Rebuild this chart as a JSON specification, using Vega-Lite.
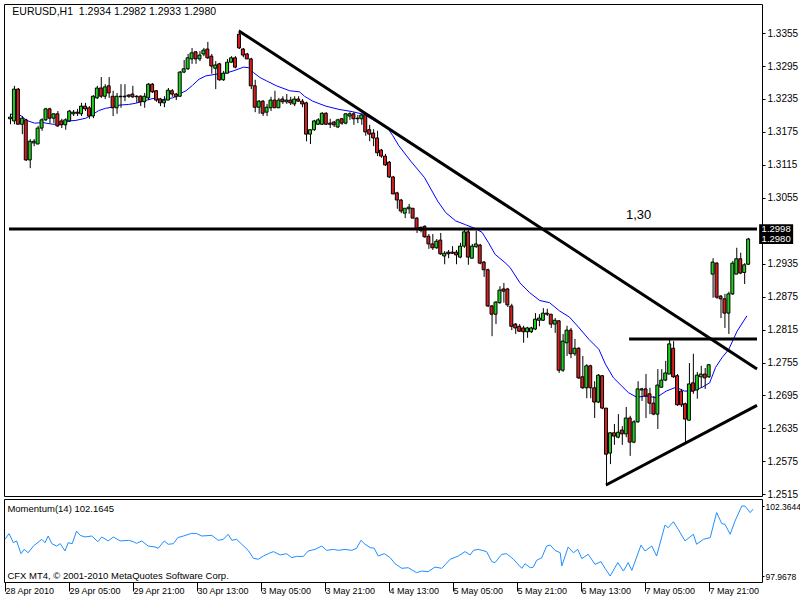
{
"$schema": "https://vega.github.io/schema/vega-lite/v6.json",
"background": "white",
"padding": {"left": 2, "top": 3, "right": 0, "bottom": 0},
"bounds": "flush",
"spacing": 3,
"config": {
  "view": {"stroke": "black", "strokeWidth": 1},
  "font": "Liberation Sans",
  "axis": {"labelFont": "Liberation Sans", "labelFontSize": 9, "labelColor": "black", "tickColor": "black", "domain": false, "grid": false, "labelOverlap": false}
},
"datasets": {
"candles": [
{"i":0,"o":1.3199,"h":1.3208,"l":1.3189,"c":1.3202},
{"i":1,"o":1.3195,"h":1.3259,"l":1.3189,"c":1.3253},
{"i":2,"o":1.3253,"h":1.3255,"l":1.3189,"c":1.3189},
{"i":3,"o":1.3189,"h":1.3204,"l":1.3171,"c":1.3200},
{"i":4,"o":1.3197,"h":1.3199,"l":1.3122,"c":1.3124},
{"i":5,"o":1.3124,"h":1.3162,"l":1.3109,"c":1.3158},
{"i":6,"o":1.3155,"h":1.3162,"l":1.3149,"c":1.3158},
{"i":7,"o":1.3153,"h":1.3186,"l":1.3153,"c":1.3182},
{"i":8,"o":1.3182,"h":1.3200,"l":1.3177,"c":1.3197},
{"i":9,"o":1.3197,"h":1.3219,"l":1.3195,"c":1.3217},
{"i":10,"o":1.3217,"h":1.3219,"l":1.3191,"c":1.3200},
{"i":11,"o":1.3200,"h":1.3209,"l":1.3191,"c":1.3208},
{"i":12,"o":1.3208,"h":1.3213,"l":1.3184,"c":1.3186},
{"i":13,"o":1.3195,"h":1.3199,"l":1.3182,"c":1.3188},
{"i":14,"o":1.3188,"h":1.3200,"l":1.3179,"c":1.3197},
{"i":15,"o":1.3195,"h":1.3215,"l":1.3193,"c":1.3213},
{"i":16,"o":1.3208,"h":1.3215,"l":1.3204,"c":1.3211},
{"i":17,"o":1.3211,"h":1.3217,"l":1.3204,"c":1.3209},
{"i":18,"o":1.3208,"h":1.3228,"l":1.3204,"c":1.3222},
{"i":19,"o":1.3222,"h":1.3228,"l":1.3213,"c":1.3217},
{"i":20,"o":1.3219,"h":1.3222,"l":1.3199,"c":1.3204},
{"i":21,"o":1.3204,"h":1.3242,"l":1.3200,"c":1.3240},
{"i":22,"o":1.3237,"h":1.3259,"l":1.3235,"c":1.3255},
{"i":23,"o":1.3255,"h":1.3275,"l":1.3237,"c":1.3240},
{"i":24,"o":1.3240,"h":1.3262,"l":1.3235,"c":1.3257},
{"i":25,"o":1.3259,"h":1.3275,"l":1.3237,"c":1.3246},
{"i":26,"o":1.3240,"h":1.3250,"l":1.3204,"c":1.3219},
{"i":27,"o":1.3219,"h":1.3246,"l":1.3208,"c":1.3240},
{"i":28,"o":1.3240,"h":1.3262,"l":1.3219,"c":1.3239},
{"i":29,"o":1.3240,"h":1.3262,"l":1.3231,"c":1.3239},
{"i":30,"o":1.3240,"h":1.3244,"l":1.3237,"c":1.3242},
{"i":31,"o":1.3244,"h":1.3259,"l":1.3237,"c":1.3239},
{"i":32,"o":1.3240,"h":1.3242,"l":1.3228,"c":1.3239},
{"i":33,"o":1.3240,"h":1.3242,"l":1.3222,"c":1.3230},
{"i":34,"o":1.3230,"h":1.3246,"l":1.3219,"c":1.3240},
{"i":35,"o":1.3237,"h":1.3264,"l":1.3233,"c":1.3262},
{"i":36,"o":1.3262,"h":1.3264,"l":1.3246,"c":1.3248},
{"i":37,"o":1.3250,"h":1.3251,"l":1.3230,"c":1.3233},
{"i":38,"o":1.3235,"h":1.3237,"l":1.3222,"c":1.3228},
{"i":39,"o":1.3228,"h":1.3240,"l":1.3220,"c":1.3233},
{"i":40,"o":1.3233,"h":1.3255,"l":1.3233,"c":1.3251},
{"i":41,"o":1.3250,"h":1.3253,"l":1.3239,"c":1.3244},
{"i":42,"o":1.3244,"h":1.3246,"l":1.3233,"c":1.3239},
{"i":43,"o":1.3240,"h":1.3286,"l":1.3239,"c":1.3284},
{"i":44,"o":1.3284,"h":1.3306,"l":1.3282,"c":1.3290},
{"i":45,"o":1.3290,"h":1.3317,"l":1.3288,"c":1.3310},
{"i":46,"o":1.3308,"h":1.3328,"l":1.3299,"c":1.3319},
{"i":47,"o":1.3321,"h":1.3322,"l":1.3299,"c":1.3308},
{"i":48,"o":1.3308,"h":1.3322,"l":1.3304,"c":1.3315},
{"i":49,"o":1.3317,"h":1.3328,"l":1.3313,"c":1.3324},
{"i":50,"o":1.3326,"h":1.3339,"l":1.3308,"c":1.3310},
{"i":51,"o":1.3313,"h":1.3317,"l":1.3281,"c":1.3295},
{"i":52,"o":1.3291,"h":1.3304,"l":1.3253,"c":1.3297},
{"i":53,"o":1.3299,"h":1.3301,"l":1.3268,"c":1.3270},
{"i":54,"o":1.3270,"h":1.3286,"l":1.3268,"c":1.3282},
{"i":55,"o":1.3282,"h":1.3308,"l":1.3282,"c":1.3302},
{"i":56,"o":1.3302,"h":1.3313,"l":1.3301,"c":1.3310},
{"i":57,"o":1.3310,"h":1.3313,"l":1.3291,"c":1.3293},
{"i":58,"o":1.3353,"h":1.3361,"l":1.3326,"c":1.3328},
{"i":59,"o":1.3326,"h":1.3328,"l":1.3311,"c":1.3315},
{"i":60,"o":1.3317,"h":1.3319,"l":1.3308,"c":1.3308},
{"i":61,"o":1.3308,"h":1.3310,"l":1.3253,"c":1.3259},
{"i":62,"o":1.3259,"h":1.3270,"l":1.3211,"c":1.3220},
{"i":63,"o":1.3220,"h":1.3233,"l":1.3208,"c":1.3231},
{"i":64,"o":1.3231,"h":1.3233,"l":1.3204,"c":1.3209},
{"i":65,"o":1.3211,"h":1.3226,"l":1.3204,"c":1.3220},
{"i":66,"o":1.3219,"h":1.3239,"l":1.3213,"c":1.3233},
{"i":67,"o":1.3233,"h":1.3250,"l":1.3219,"c":1.3219},
{"i":68,"o":1.3219,"h":1.3237,"l":1.3219,"c":1.3233},
{"i":69,"o":1.3235,"h":1.3240,"l":1.3226,"c":1.3230},
{"i":70,"o":1.3230,"h":1.3244,"l":1.3226,"c":1.3233},
{"i":71,"o":1.3233,"h":1.3239,"l":1.3224,"c":1.3228},
{"i":72,"o":1.3226,"h":1.3240,"l":1.3222,"c":1.3235},
{"i":73,"o":1.3235,"h":1.3240,"l":1.3230,"c":1.3231},
{"i":74,"o":1.3231,"h":1.3235,"l":1.3220,"c":1.3226},
{"i":75,"o":1.3228,"h":1.3230,"l":1.3158,"c":1.3171},
{"i":76,"o":1.3171,"h":1.3180,"l":1.3153,"c":1.3179},
{"i":77,"o":1.3179,"h":1.3197,"l":1.3177,"c":1.3195},
{"i":78,"o":1.3189,"h":1.3200,"l":1.3188,"c":1.3197},
{"i":79,"o":1.3189,"h":1.3211,"l":1.3188,"c":1.3209},
{"i":80,"o":1.3209,"h":1.3211,"l":1.3188,"c":1.3189},
{"i":81,"o":1.3191,"h":1.3199,"l":1.3182,"c":1.3189},
{"i":82,"o":1.3193,"h":1.3195,"l":1.3184,"c":1.3188},
{"i":83,"o":1.3184,"h":1.3199,"l":1.3182,"c":1.3197},
{"i":84,"o":1.3199,"h":1.3200,"l":1.3188,"c":1.3191},
{"i":85,"o":1.3191,"h":1.3209,"l":1.3189,"c":1.3208},
{"i":86,"o":1.3204,"h":1.3211,"l":1.3197,"c":1.3208},
{"i":87,"o":1.3208,"h":1.3211,"l":1.3188,"c":1.3199},
{"i":88,"o":1.3199,"h":1.3206,"l":1.3191,"c":1.3200},
{"i":89,"o":1.3199,"h":1.3208,"l":1.3188,"c":1.3206},
{"i":90,"o":1.3206,"h":1.3208,"l":1.3168,"c":1.3175},
{"i":91,"o":1.3179,"h":1.3188,"l":1.3158,"c":1.3171},
{"i":92,"o":1.3173,"h":1.3180,"l":1.3149,"c":1.3164},
{"i":93,"o":1.3164,"h":1.3177,"l":1.3131,"c":1.3137},
{"i":94,"o":1.3142,"h":1.3144,"l":1.3128,"c":1.3131},
{"i":95,"o":1.3131,"h":1.3135,"l":1.3113,"c":1.3115},
{"i":96,"o":1.3120,"h":1.3122,"l":1.3091,"c":1.3093},
{"i":97,"o":1.3093,"h":1.3095,"l":1.3062,"c":1.3062},
{"i":98,"o":1.3064,"h":1.3066,"l":1.3035,"c":1.3051},
{"i":99,"o":1.3051,"h":1.3053,"l":1.3027,"c":1.3031},
{"i":100,"o":1.3027,"h":1.3036,"l":1.3018,"c":1.3036},
{"i":101,"o":1.3035,"h":1.3044,"l":1.3026,"c":1.3038},
{"i":102,"o":1.3036,"h":1.3036,"l":1.3018,"c":1.3018},
{"i":103,"o":1.3018,"h":1.3020,"l":1.2991,"c":1.2998},
{"i":104,"o":1.3001,"h":1.3003,"l":1.2992,"c":1.2996},
{"i":105,"o":1.3003,"h":1.3005,"l":1.2982,"c":1.2984},
{"i":106,"o":1.2985,"h":1.2989,"l":1.2962,"c":1.2971},
{"i":107,"o":1.2971,"h":1.2989,"l":1.2960,"c":1.2964},
{"i":108,"o":1.2964,"h":1.2980,"l":1.2962,"c":1.2976},
{"i":109,"o":1.2978,"h":1.2991,"l":1.2951,"c":1.2953},
{"i":110,"o":1.2949,"h":1.2958,"l":1.2934,"c":1.2954},
{"i":111,"o":1.2956,"h":1.2960,"l":1.2945,"c":1.2953},
{"i":112,"o":1.2956,"h":1.2967,"l":1.2953,"c":1.2954},
{"i":113,"o":1.2956,"h":1.2960,"l":1.2934,"c":1.2951},
{"i":114,"o":1.2947,"h":1.2973,"l":1.2945,"c":1.2967},
{"i":115,"o":1.2967,"h":1.2998,"l":1.2964,"c":1.2993},
{"i":116,"o":1.2993,"h":1.2998,"l":1.2933,"c":1.2947},
{"i":117,"o":1.2945,"h":1.2971,"l":1.2945,"c":1.2967},
{"i":118,"o":1.2966,"h":1.2995,"l":1.2964,"c":1.2971},
{"i":119,"o":1.2969,"h":1.2971,"l":1.2934,"c":1.2936},
{"i":120,"o":1.2938,"h":1.2940,"l":1.2911,"c":1.2924},
{"i":121,"o":1.2924,"h":1.2926,"l":1.2856,"c":1.2858},
{"i":122,"o":1.2858,"h":1.2860,"l":1.2803,"c":1.2843},
{"i":123,"o":1.2843,"h":1.2867,"l":1.2825,"c":1.2865},
{"i":124,"o":1.2864,"h":1.2894,"l":1.2862,"c":1.2887},
{"i":125,"o":1.2889,"h":1.2900,"l":1.2864,"c":1.2885},
{"i":126,"o":1.2889,"h":1.2891,"l":1.2856,"c":1.2860},
{"i":127,"o":1.2858,"h":1.2862,"l":1.2814,"c":1.2821},
{"i":128,"o":1.2825,"h":1.2827,"l":1.2807,"c":1.2818},
{"i":129,"o":1.2821,"h":1.2825,"l":1.2811,"c":1.2812},
{"i":130,"o":1.2818,"h":1.2822,"l":1.2791,"c":1.2811},
{"i":131,"o":1.2811,"h":1.2820,"l":1.2800,"c":1.2818},
{"i":132,"o":1.2811,"h":1.2820,"l":1.2809,"c":1.2818},
{"i":133,"o":1.2816,"h":1.2845,"l":1.2814,"c":1.2834},
{"i":134,"o":1.2832,"h":1.2843,"l":1.2821,"c":1.2836},
{"i":135,"o":1.2832,"h":1.2854,"l":1.2831,"c":1.2845},
{"i":136,"o":1.2845,"h":1.2853,"l":1.2840,"c":1.2843},
{"i":137,"o":1.2843,"h":1.2843,"l":1.2818,"c":1.2825},
{"i":138,"o":1.2825,"h":1.2836,"l":1.2809,"c":1.2832},
{"i":139,"o":1.2831,"h":1.2832,"l":1.2736,"c":1.2741},
{"i":140,"o":1.2741,"h":1.2807,"l":1.2738,"c":1.2794},
{"i":141,"o":1.2791,"h":1.2822,"l":1.2767,"c":1.2814},
{"i":142,"o":1.2814,"h":1.2818,"l":1.2763,"c":1.2771},
{"i":143,"o":1.2771,"h":1.2798,"l":1.2767,"c":1.2781},
{"i":144,"o":1.2781,"h":1.2783,"l":1.2725,"c":1.2727},
{"i":145,"o":1.2729,"h":1.2767,"l":1.2707,"c":1.2709},
{"i":146,"o":1.2709,"h":1.2752,"l":1.2690,"c":1.2749},
{"i":147,"o":1.2749,"h":1.2751,"l":1.2690,"c":1.2709},
{"i":148,"o":1.2709,"h":1.2721,"l":1.2654,"c":1.2683},
{"i":149,"o":1.2683,"h":1.2734,"l":1.2681,"c":1.2732},
{"i":150,"o":1.2731,"h":1.2732,"l":1.2670,"c":1.2672},
{"i":151,"o":1.2672,"h":1.2672,"l":1.2530,"c":1.2588},
{"i":152,"o":1.2590,"h":1.2628,"l":1.2570,"c":1.2627},
{"i":153,"o":1.2627,"h":1.2643,"l":1.2605,"c":1.2621},
{"i":154,"o":1.2619,"h":1.2661,"l":1.2617,"c":1.2628},
{"i":155,"o":1.2632,"h":1.2639,"l":1.2605,"c":1.2625},
{"i":156,"o":1.2625,"h":1.2674,"l":1.2619,"c":1.2654},
{"i":157,"o":1.2654,"h":1.2658,"l":1.2585,"c":1.2610},
{"i":158,"o":1.2610,"h":1.2650,"l":1.2608,"c":1.2647},
{"i":159,"o":1.2647,"h":1.2721,"l":1.2645,"c":1.2707},
{"i":160,"o":1.2705,"h":1.2709,"l":1.2685,"c":1.2707},
{"i":161,"o":1.2707,"h":1.2734,"l":1.2654,"c":1.2694},
{"i":162,"o":1.2698,"h":1.2709,"l":1.2661,"c":1.2681},
{"i":163,"o":1.2681,"h":1.2694,"l":1.2659,"c":1.2661},
{"i":164,"o":1.2661,"h":1.2743,"l":1.2634,"c":1.2714},
{"i":165,"o":1.2710,"h":1.2743,"l":1.2709,"c":1.2723},
{"i":166,"o":1.2723,"h":1.2758,"l":1.2721,"c":1.2736},
{"i":167,"o":1.2734,"h":1.2798,"l":1.2734,"c":1.2789},
{"i":168,"o":1.2781,"h":1.2794,"l":1.2727,"c":1.2729},
{"i":169,"o":1.2731,"h":1.2734,"l":1.2676,"c":1.2678},
{"i":170,"o":1.2703,"h":1.2707,"l":1.2674,"c":1.2678},
{"i":171,"o":1.2680,"h":1.2682,"l":1.2608,"c":1.2652},
{"i":172,"o":1.2650,"h":1.2754,"l":1.2649,"c":1.2716},
{"i":173,"o":1.2718,"h":1.2771,"l":1.2698,"c":1.2703},
{"i":174,"o":1.2705,"h":1.2738,"l":1.2689,"c":1.2732},
{"i":175,"o":1.2729,"h":1.2749,"l":1.2709,"c":1.2734},
{"i":176,"o":1.2734,"h":1.2745,"l":1.2707,"c":1.2727},
{"i":177,"o":1.2729,"h":1.2752,"l":1.2727,"c":1.2751},
{"i":178,"o":1.2916,"h":1.2945,"l":1.2873,"c":1.2938},
{"i":179,"o":1.2936,"h":1.2938,"l":1.2871,"c":1.2874},
{"i":180,"o":1.2876,"h":1.2878,"l":1.2836,"c":1.2871},
{"i":181,"o":1.2871,"h":1.2880,"l":1.2818,"c":1.2845},
{"i":182,"o":1.2845,"h":1.2884,"l":1.2807,"c":1.2880},
{"i":183,"o":1.2880,"h":1.2940,"l":1.2878,"c":1.2936},
{"i":184,"o":1.2916,"h":1.2964,"l":1.2916,"c":1.2944},
{"i":185,"o":1.2944,"h":1.2955,"l":1.2916,"c":1.2918},
{"i":186,"o":1.2919,"h":1.2936,"l":1.2898,"c":1.2933},
{"i":187,"o":1.2934,"h":1.2982,"l":1.2933,"c":1.2980}
],
"ma": [
{"i":0,"p":1.3207},{"i":1.7,"p":1.3208},{"i":2.9,"p":1.3204},{"i":4.2,"p":1.3196},{"i":6.25,"p":1.3191},{"i":8.35,"p":1.3192},{"i":10.85,"p":1.3189},{"i":12.9,"p":1.3189},{"i":15,"p":1.3195},{"i":16.7,"p":1.3196},{"i":19.2,"p":1.3200},{"i":21,"p":1.3207},{"i":22.5,"p":1.3214},{"i":24.2,"p":1.3218},{"i":25.85,"p":1.3220},{"i":27.9,"p":1.3224},{"i":30,"p":1.3225},{"i":31.7,"p":1.3227},{"i":33.75,"p":1.3231},{"i":36.25,"p":1.3236},{"i":38.75,"p":1.3234},{"i":41.25,"p":1.3237},{"i":42.9,"p":1.3244},{"i":44.6,"p":1.3250},{"i":46.25,"p":1.3260},{"i":47.9,"p":1.3271},{"i":49.6,"p":1.3277},{"i":52.1,"p":1.3280},{"i":54.6,"p":1.3282},{"i":56.5,"p":1.3286},{"i":59.2,"p":1.3293},{"i":60.4,"p":1.3292},{"i":61.7,"p":1.3283},{"i":63.35,"p":1.3274},{"i":65,"p":1.3268},{"i":67.5,"p":1.3259},{"i":70.85,"p":1.3250},{"i":73.35,"p":1.3248},{"i":74.6,"p":1.3240},{"i":76.7,"p":1.3231},{"i":80,"p":1.3222},{"i":83.35,"p":1.3216},{"i":86.7,"p":1.3212},{"i":89.6,"p":1.3207},{"i":92.5,"p":1.3195},{"i":95.6,"p":1.3183},{"i":97,"p":1.3168},{"i":98.5,"p":1.3150},{"i":101.5,"p":1.3122},{"i":105,"p":1.3092},{"i":108.35,"p":1.3049},{"i":110.4,"p":1.3028},{"i":112.9,"p":1.3013},{"i":115.4,"p":1.3006},{"i":117.9,"p":1.2999},{"i":119.6,"p":1.2992},{"i":121.25,"p":1.2973},{"i":122.9,"p":1.2952},{"i":125.4,"p":1.2937},{"i":126.7,"p":1.2928},{"i":129.2,"p":1.2900},{"i":131.7,"p":1.2882},{"i":134.2,"p":1.2868},{"i":136.7,"p":1.2864},{"i":139.2,"p":1.2849},{"i":141.7,"p":1.2838},{"i":144.2,"p":1.2818},{"i":146.7,"p":1.2797},{"i":149.2,"p":1.2779},{"i":150.85,"p":1.2752},{"i":152.9,"p":1.2727},{"i":155,"p":1.2712},{"i":156.7,"p":1.2700},{"i":158.75,"p":1.2692},{"i":161.25,"p":1.2694},{"i":163.75,"p":1.2691},{"i":166.25,"p":1.2703},{"i":168.75,"p":1.2710},{"i":170.85,"p":1.2703},{"i":172.9,"p":1.2703},{"i":175.4,"p":1.2710},{"i":177.25,"p":1.2718},{"i":178.75,"p":1.2746},{"i":180.4,"p":1.2764},{"i":182.1,"p":1.2779},{"i":184.2,"p":1.2812},{"i":186.7,"p":1.2840}
],
"mom": [
{"i":0,"m":100.27},{"i":1.0,"m":100.63},{"i":2.1,"m":100.06},{"i":2.9,"m":100.17},{"i":4.0,"m":99.37},{"i":4.8,"m":99.64},{"i":5.8,"m":99.43},{"i":7.1,"m":99.85},{"i":9.2,"m":100.27},{"i":10.0,"m":100.06},{"i":10.8,"m":100.48},{"i":11.7,"m":100.00},{"i":12.9,"m":99.85},{"i":13.8,"m":100.00},{"i":15.0,"m":99.54},{"i":15.8,"m":100.06},{"i":16.8,"m":100.00},{"i":17.9,"m":100.79},{"i":18.8,"m":100.52},{"i":20.0,"m":100.42},{"i":21.7,"m":100.48},{"i":23.2,"m":100.12},{"i":24.2,"m":100.42},{"i":25.8,"m":100.17},{"i":27.1,"m":100.42},{"i":28.8,"m":100.17},{"i":30.9,"m":100.21},{"i":32.1,"m":100.12},{"i":32.9,"m":100.02},{"i":34.2,"m":100.17},{"i":35.8,"m":99.85},{"i":37.5,"m":99.79},{"i":38.3,"m":99.71},{"i":39.8,"m":100.17},{"i":40.8,"m":99.96},{"i":42.1,"m":100.00},{"i":43.2,"m":100.38},{"i":44.6,"m":100.48},{"i":46.7,"m":100.65},{"i":47.9,"m":100.63},{"i":49.2,"m":100.48},{"i":51.7,"m":100.52},{"i":53.3,"m":100.21},{"i":54.6,"m":100.27},{"i":55.8,"m":100.59},{"i":56.7,"m":100.21},{"i":57.9,"m":100.27},{"i":59.2,"m":99.96},{"i":60.8,"m":99.58},{"i":62.1,"m":99.08},{"i":63.3,"m":99.02},{"i":64.6,"m":99.22},{"i":65.8,"m":99.37},{"i":67.1,"m":99.50},{"i":68.8,"m":99.29},{"i":70.4,"m":99.37},{"i":71.7,"m":99.12},{"i":72.9,"m":99.20},{"i":74.6,"m":99.20},{"i":75.8,"m":99.54},{"i":77.5,"m":99.64},{"i":79.2,"m":99.85},{"i":80.4,"m":99.58},{"i":82.1,"m":99.64},{"i":83.3,"m":99.58},{"i":85.0,"m":99.64},{"i":86.7,"m":99.58},{"i":87.9,"m":99.71},{"i":89.0,"m":100.21},{"i":90.0,"m":99.96},{"i":91.3,"m":99.75},{"i":92.3,"m":99.71},{"i":93.3,"m":99.22},{"i":94.8,"m":99.37},{"i":96.3,"m":99.12},{"i":97.5,"m":98.74},{"i":99.2,"m":98.45},
{"i":100.8,"m":98.49},{"i":102.9,"m":98.18},{"i":104.2,"m":98.28},{"i":105.8,"m":98.24},{"i":107.5,"m":98.53},{"i":109.2,"m":98.45},{"i":111.3,"m":99.02},{"i":113.3,"m":99.22},{"i":115.0,"m":99.50},{"i":116.3,"m":99.29},{"i":117.1,"m":99.58},{"i":118.3,"m":99.64},{"i":120.4,"m":99.50},{"i":121.7,"m":98.87},{"i":122.5,"m":98.81},{"i":124.2,"m":99.33},{"i":125.4,"m":99.37},{"i":127.1,"m":99.02},{"i":129.2,"m":98.45},{"i":130.0,"m":98.74},{"i":131.3,"m":98.49},{"i":132.1,"m":98.53},{"i":132.9,"m":98.95},{"i":134.2,"m":99.12},{"i":135.4,"m":99.85},{"i":136.3,"m":99.91},{"i":137.5,"m":99.58},{"i":138.8,"m":99.43},{"i":139.2,"m":98.60},{"i":140.8,"m":99.79},{"i":142.1,"m":99.43},{"i":143.2,"m":99.64},{"i":144.2,"m":99.06},{"i":145.8,"m":99.33},{"i":147.5,"m":98.70},{"i":149.0,"m":98.87},{"i":150.0,"m":98.45},{"i":151.3,"m":97.9678},{"i":153.2,"m":98.81},{"i":154.6,"m":98.28},{"i":155.8,"m":98.81},{"i":156.7,"m":98.32},{"i":159.0,"m":99.91},{"i":160.0,"m":99.54},{"i":161.7,"m":99.85},{"i":162.9,"m":99.22},{"i":165.0,"m":101.17},{"i":165.8,"m":101.00},{"i":167.1,"m":101.38},{"i":168.3,"m":100.90},{"i":170.0,"m":100.17},{"i":172.1,"m":100.59},{"i":172.9,"m":99.96},{"i":174.6,"m":100.27},{"i":176.3,"m":100.38},{"i":177.9,"m":101.95},{"i":179.2,"m":101.26},{"i":180.0,"m":101.21},{"i":181.3,"m":100.59},{"i":182.5,"m":101.42},{"i":184.2,"m":102.3644},{"i":185.0,"m":102.36},{"i":186.3,"m":101.95},{"i":187.0,"m":102.1645}
],
"lines": [
{"id":"down","i":58,"p":1.3359},{"id":"down","i":189.25,"p":1.2743},
{"id":"up","i":151,"p":1.2532},{"id":"up","i":189.25,"p":1.2677},
{"id":"h2","i":156.85,"p":1.2798},{"id":"h2","i":189.25,"p":1.2798},
{"id":"h1","i":-0.25,"p":1.2998},{"id":"h1","i":189.25,"p":1.2998}
],
"tags": [
{"t":"1.2998","p":1.2998},
{"t":"1.2980","p":1.2980}
]
},
"vconcat": [
{
  "width": 758, "height": 492,
  "resolve": {"axis": {"y": "independent", "x": "independent"}},
  "layer": [
    {"data": {"name": "ma"}, "mark": {"type": "line", "color": "#0000ff", "strokeWidth": 1},
     "encoding": {
       "x": {"field": "i", "type": "quantitative", "scale": {"domain": [-0.25, 189.25], "nice": false, "zero": false}, "axis": null},
       "y": {"field": "p", "type": "quantitative", "scale": {"domain": [1.25119, 1.3408], "nice": false, "zero": false},
             "axis": {"orient": "right", "values": [1.3355,1.3295,1.3235,1.3175,1.3115,1.3055,1.2935,1.2875,1.2815,1.2755,1.2695,1.2635,1.2575,1.2515], "format": ".4f", "tickSize": 3, "labelPadding": 2, "labelFontSize": 10, "labelOverlap": false, "title": null}}}},
    {"data": {"name": "candles"}, "mark": {"type": "rule", "color": "black", "strokeWidth": 1, "xOffset": 0.5},
     "encoding": {
       "x": {"field": "i", "type": "quantitative", "scale": {"domain": [-0.25, 189.25], "nice": false, "zero": false}, "axis": null},
       "y": {"field": "l", "type": "quantitative", "scale": {"domain": [1.25119, 1.3408], "nice": false, "zero": false}, "axis": null},
       "y2": {"field": "h"}}},
    {"data": {"name": "candles"}, "mark": {"type": "bar", "width": 3, "stroke": "black", "strokeWidth": 1},
     "encoding": {
       "x": {"field": "i", "type": "quantitative", "scale": {"domain": [-0.25, 189.25], "nice": false, "zero": false}, "axis": null},
       "y": {"field": "o", "type": "quantitative", "scale": {"domain": [1.25119, 1.3408], "nice": false, "zero": false}, "axis": null},
       "y2": {"field": "c"},
       "fill": {"condition": {"test": "datum.c >= datum.o", "value": "#1ed21e"}, "value": "#d81e1e"}}},
    {"data": {"name": "lines"}, "mark": {"type": "line", "color": "black", "strokeWidth": 3},
     "encoding": {
       "x": {"field": "i", "type": "quantitative", "scale": {"domain": [-0.25, 189.25], "nice": false, "zero": false}, "axis": null},
       "y": {"field": "p", "type": "quantitative", "scale": {"domain": [1.25119, 1.3408], "nice": false, "zero": false}, "axis": null},
       "detail": {"field": "id"}}},
    {"data": {"values": [{"t": "EURUSD,H1\u00a0\u00a01.2934 1.2982 1.2933 1.2980"}]},
     "mark": {"type": "text", "align": "left", "baseline": "middle", "fontSize": 10.5, "font": "Liberation Sans", "color": "black"},
     "encoding": {
       "x": {"datum": 0.6, "type": "quantitative", "axis": null},
       "y": {"datum": 1.3393, "type": "quantitative", "axis": null},
       "text": {"field": "t"}}},
    {"data": {"values": [{"t": "1,30"}]},
     "mark": {"type": "text", "align": "center", "baseline": "middle", "fontSize": 13, "font": "Liberation Sans", "color": "black"},
     "encoding": {
       "x": {"datum": 159.25, "type": "quantitative", "axis": null},
       "y": {"datum": 1.3024, "type": "quantitative", "axis": null},
       "text": {"field": "t"}}},
    {"data": {"name": "tags"}, "mark": {"type": "point", "shape": "M-1,-0.29H1V0.29H-1Z", "filled": true, "color": "black", "size": 1156, "opacity": 1},
     "encoding": {
       "x": {"datum": 194.1, "type": "quantitative", "axis": null},
       "y": {"field": "p", "type": "quantitative", "axis": null}}},
    {"data": {"name": "tags"}, "mark": {"type": "text", "align": "center", "baseline": "middle", "fontSize": 9.5, "font": "Liberation Sans", "color": "white"},
     "encoding": {
       "x": {"datum": 194.1, "type": "quantitative", "axis": null},
       "y": {"field": "p", "type": "quantitative", "axis": null},
       "text": {"field": "t"}}}
  ]
},
{
  "width": 758, "height": 83,
  "layer": [
    {"data": {"name": "mom"}, "mark": {"type": "line", "color": "#1e90ff", "strokeWidth": 1},
     "encoding": {
       "x": {"field": "i", "type": "quantitative", "scale": {"domain": [-0.25, 189.25], "nice": false, "zero": false},
             "axis": {"orient": "bottom", "values": [0,16,32,48,64,80,96,112,128,144,160,176], "labelExpr": "['28 Apr 2010','29 Apr 05:00','29 Apr 21:00','30 Apr 13:00','3 May 05:00','3 May 21:00','4 May 13:00','5 May 05:00','5 May 21:00','6 May 13:00','7 May 05:00','7 May 21:00'][round(datum.value/16)]", "labelAlign": "left", "labelDx": 3, "labelBaseline": "top", "tickSize": 9, "labelPadding": -5, "labelFlush": false, "labelOverlap": false, "title": null}},
       "y": {"field": "m", "type": "quantitative", "scale": {"domain": [97.592, 102.804], "nice": false, "zero": false},
             "axis": {"orient": "right", "values": [102.3644, 97.9678], "format": ".4f", "tickSize": 2, "labelPadding": 1, "labelFontSize": 8.5, "labelOverlap": false, "title": null}}}},
    {"data": {"values": [{"t": "Momentum(14) 102.1645"}]},
     "mark": {"type": "text", "align": "left", "baseline": "middle", "fontSize": 9.5, "font": "Liberation Sans", "color": "black"},
     "encoding": {
       "x": {"datum": 0.6, "type": "quantitative"},
       "y": {"datum": 102.16, "type": "quantitative"},
       "text": {"field": "t"}}},
    {"data": {"values": [{"t": "CFX MT4, © 2001-2010 MetaQuotes Software Corp."}]},
     "mark": {"type": "text", "align": "left", "baseline": "middle", "fontSize": 9.5, "font": "Liberation Sans", "color": "black"},
     "encoding": {
       "x": {"datum": 0.6, "type": "quantitative"},
       "y": {"datum": 97.96, "type": "quantitative"},
       "text": {"field": "t"}}}
  ]
}
]
}
